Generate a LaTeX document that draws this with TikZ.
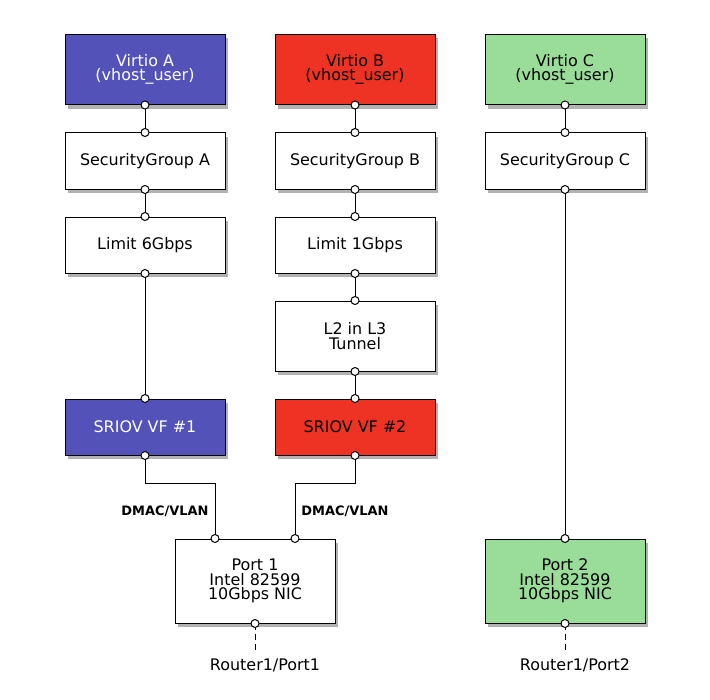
\documentclass[tikz,border=0pt]{standalone}
\usepackage{fontspec}
\setmainfont{DejaVu Sans}
\usepackage{xcolor}
\usetikzlibrary{positioning, shadows}

\definecolor{blueA}{RGB}{82,82,184}
\definecolor{redB}{RGB}{238,51,36}
\definecolor{greenC}{RGB}{153,221,153}

\begin{document}
\begin{tikzpicture}[x=1bp, y=-1bp, line width=1bp,
    box/.style={draw, fill=white, align=center, minimum width=160bp, minimum height=56bp, inner sep=0pt,
                font=\fontsize{16}{14.5}\selectfont,
                drop shadow={shadow xshift=3bp, shadow yshift=-4bp, fill=black!60, opacity=0.5}},
    tall/.style={minimum height=70bp},
    nic/.style={minimum height=84bp},
    port/.style={draw=black, fill=white},
    lbl/.style={font=\fontsize{13}{13}\selectfont\bfseries},
    ext/.style={font=\fontsize{16}{16}\selectfont}]

      \useasboundingbox[fill=white] (0,0) rectangle (710,700);

      % virtual ports
      \node[box, tall, fill=blueA, text=white] (VA)  at (145, 69.5)  {Virtio A \\ (vhost\_user)};
      \node[box, tall, fill=redB]              (VB)  at (355, 69.5)  {Virtio B \\ (vhost\_user)};
      \node[box, tall, fill=greenC]            (VC)  at (565, 69.5)  {Virtio C \\ (vhost\_user)};

      \node[box]                               (SGA) at (145, 161)   {SecurityGroup A};
      \node[box]                               (SGB) at (355, 161)   {SecurityGroup B};
      \node[box]                               (SGC) at (565, 161)   {SecurityGroup C};

      \node[box]                               (LA)  at (145, 245)   {Limit 6Gbps};
      \node[box]                               (LB)  at (355, 245)   {Limit 1Gbps};
      \node[box, tall]                         (TB)  at (355, 336)   {L2 in L3 \\ Tunnel};

      \node[box, fill=blueA, text=white]       (VFA) at (145, 427)   {SRIOV VF \#1};
      \node[box, fill=redB]                    (VFB) at (355, 427)   {SRIOV VF \#2};

      % physical ports
      \node[box, nic]                          (P1)  at (255, 581)   {Port 1 \\ Intel 82599 \\ 10Gbps NIC};
      \node[box, nic, fill=greenC]             (P2)  at (565, 581)   {Port 2 \\ Intel 82599 \\ 10Gbps NIC};

      \node[ext]                               (R1)  at (265, 665)   {Router1/Port1};
      \node[ext]                               (R2)  at (575, 665)   {Router1/Port2};

      \node[lbl]                               (DA)  at (165, 511)   {DMAC/VLAN};
      \node[lbl]                               (DB)  at (345, 511)   {DMAC/VLAN};

      \coordinate (P1a) at ([xshift=-40bp]P1.north);
      \coordinate (P1b) at ([xshift=40bp]P1.north);
      \coordinate (E1)  at ([yshift=-27bp]P1.south);
      \coordinate (E2)  at ([yshift=-27bp]P2.south);

      \draw (VA.south)  -- (SGA.north);
      \draw (SGA.south) -- (LA.north);
      \draw (LA.south)  -- (VFA.north);
      \draw (VFA.south) -- ++(0,28) -| (P1a);

      \draw (VB.south)  -- (SGB.north);
      \draw (SGB.south) -- (LB.north);
      \draw (LB.south)  -- (TB.north);
      \draw (TB.south)  -- (VFB.north);
      \draw (VFB.south) -- ++(0,28) -| (P1b);

      \draw (VC.south)  -- (SGC.north);
      \draw (SGC.south) -- (P2.north);

      \draw[dash pattern=on 6bp off 4bp] (P1.south) -- (E1);
      \draw[dash pattern=on 6bp off 4bp] (P2.south) -- (E2);

      \foreach \p in {VA.south, SGA.north, SGA.south, LA.north, LA.south, VFA.north, VFA.south, P1a,
                      VB.south, SGB.north, SGB.south, LB.north, LB.south, TB.north, TB.south, VFB.north, VFB.south, P1b,
                      VC.south, SGC.north, SGC.south, P2.north, P1.south, P2.south}
        \draw[port] (\p) circle (4bp);
    \end{tikzpicture}
\end{document}
